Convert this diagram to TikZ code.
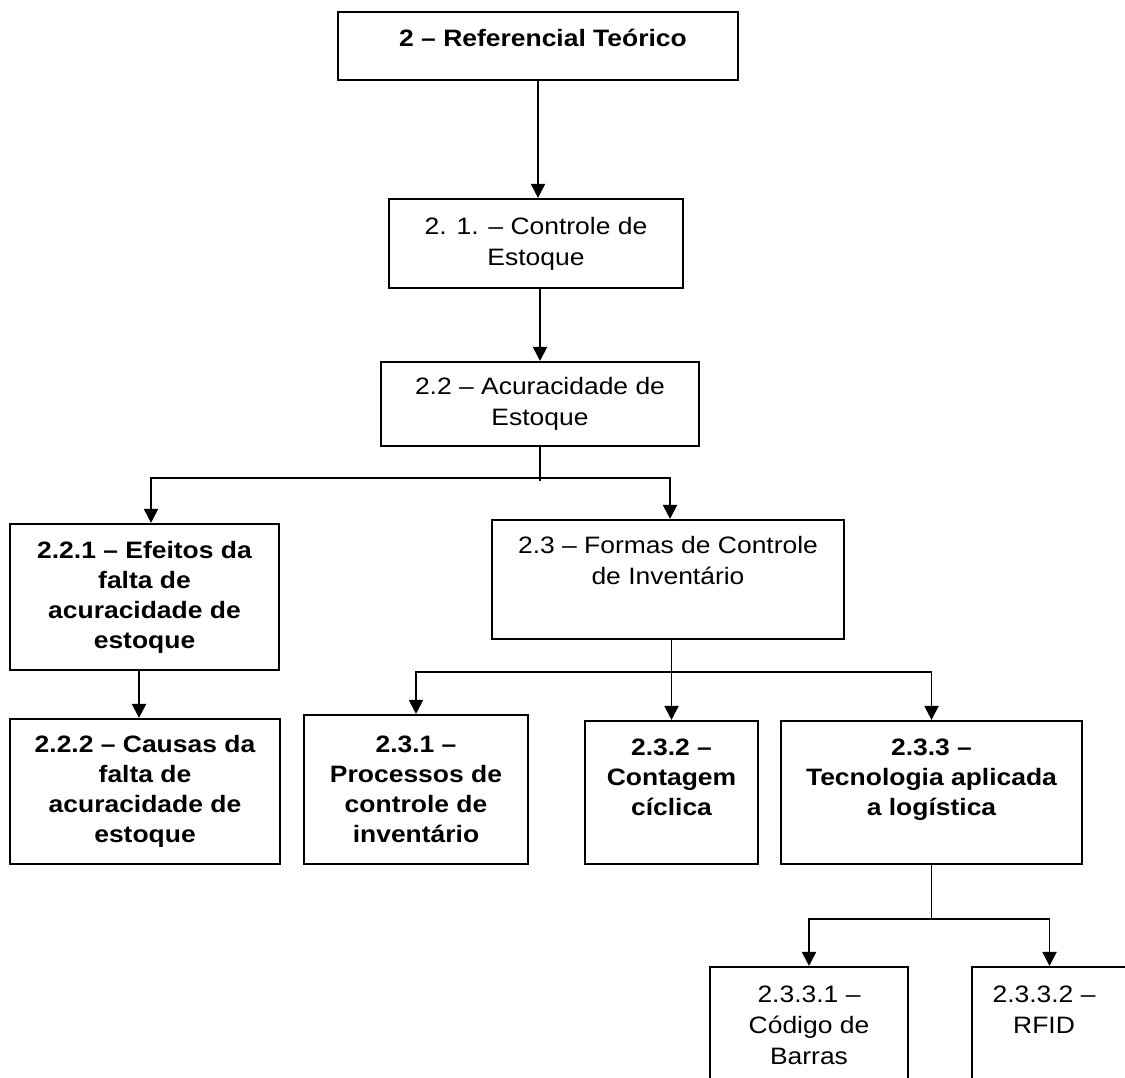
\documentclass[tikz,border=0pt]{standalone}
\usepackage{fontspec}
\setmainfont{Liberation Sans}[FakeStretch=1.115]
\usetikzlibrary{arrows.meta,positioning}

\begin{document}
\begin{tikzpicture}[x=1cm,y=1cm,>={Triangle[length=2.8mm,width=2.8mm]},
 box/.style={draw,line width=1.2pt,inner sep=0pt},
 txt/.style={align=center,inner sep=0pt,font=\fontsize{13.5}{17.6}\selectfont},
 btxt/.style={align=center,inner sep=0pt,font=\fontsize{13.5}{17.1}\selectfont\bfseries},
 wire/.style={line width=1.1pt},
 feed/.style={->,line width=1.1pt}]
\useasboundingbox (0,0) rectangle (22.5,-21.54);
\clip (0,0) rectangle (22.5,-21.54);
 \node[box,minimum width=8.00cm,minimum height=1.36cm] (ref) at (10.76,-0.92) {};
 \node[btxt,anchor=base] (ref-t) at ([xshift=0.1cm,yshift=-0.72cm]ref.north) {2 – Referencial Teórico};
 \node[box,txt,minimum width=5.88cm,minimum height=1.78cm] (ctrl) at (10.72,-4.87) {2. 1. – Controle de\\Estoque};
 \node[box,txt,minimum width=6.36cm,minimum height=1.68cm] (acur) at (10.80,-8.08) {2.2 – Acuracidade de\\Estoque};
 \node[box,btxt,minimum width=5.38cm,minimum height=2.92cm] (efei) at (2.89,-11.94) {2.2.1 – Efeitos da\\falta de\\acuracidade de\\estoque};
 \node[box,btxt,minimum width=5.40cm,minimum height=2.90cm] (caus) at (2.90,-15.83) {2.2.2 – Causas da\\falta de\\acuracidade de\\estoque};
 \node[box,minimum width=7.04cm,minimum height=2.38cm] (form) at (13.36,-11.59) {};
 \node[txt,below=0.35cm of form.north] (form-t) {2.3 – Formas de Controle\\de Inventário};
 \node[box,btxt,minimum width=4.48cm,minimum height=2.98cm] (proc) at (8.32,-15.79) {2.3.1 –\\Processos de\\controle de\\inventário};
 \node[box,minimum width=3.46cm,minimum height=2.86cm] (cont) at (13.43,-15.85) {};
 \node[btxt,below=0.37cm of cont.north] (cont-t) {2.3.2 –\\Contagem\\cíclica};
 \node[box,minimum width=6.02cm,minimum height=2.86cm] (tecn) at (18.63,-15.85) {};
 \node[btxt,below=0.37cm of tecn.north] (tecn-t) {2.3.3 –\\Tecnologia aplicada\\a logística};
 \node[box,minimum width=3.96cm,minimum height=2.66cm] (barr) at (16.18,-20.67) {};
 \node[txt,below=0.39cm of barr.north] (barr-t) {2.3.3.1 –\\Código de\\Barras};
 \node[box,minimum width=3.10cm,minimum height=2.66cm] (rfid) at (20.99,-20.67) {};
 \node[txt,below=0.39cm of rfid.north,xshift=-0.11cm] (rfid-t) {2.3.3.2 –\\RFID};
 \coordinate (c0) at ([yshift=-0.62cm]acur.south);
 \coordinate (f0) at ([yshift=-0.64cm]cont.north |- form.south);
 \coordinate (t0) at ([yshift=-1.08cm]tecn.south);
 \draw[feed] (ref.south) -- (ref.south |- ctrl.north);
 \draw[feed] (acur.north |- ctrl.south) -- (acur.north);
 \draw[wire] (acur.south) -- ++(0,-0.68);
 \draw[feed] (c0) -| ([xshift=0.13cm]efei.north);
 \draw[feed] (c0) -| ([xshift=0.04cm]form.north);
 \draw[feed] ([xshift=-0.11cm]efei.south) -- ([xshift=-0.11cm]efei.south |- caus.north);
 \draw[wire] (cont.north |- form.south) -- (f0);
 \draw[feed] (f0) -- (cont.north);
 \draw[feed] (f0) -| (proc.north);
 \draw[feed] (f0) -| (tecn.north);
 \draw[wire] (tecn.south) -- (t0);
 \draw[feed] (t0) -| (barr.north);
 \draw[feed] (t0) -| (rfid.north);
\end{tikzpicture}
\end{document}
